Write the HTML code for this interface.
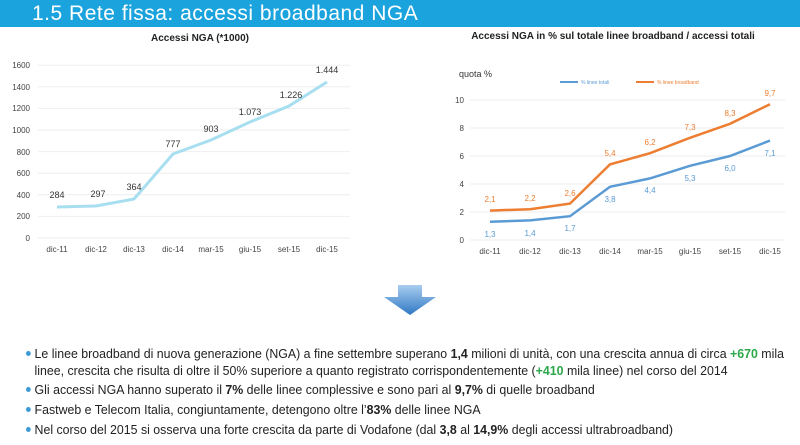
<!DOCTYPE html>
<html><head><meta charset="utf-8"><style>
body{margin:0;width:800px;height:445px;background:#fff;overflow:hidden;font-family:"Liberation Sans",sans-serif;position:relative}
.hdr{position:absolute;left:0;top:0;width:800px;height:27px;background:#1ba3dd;color:#fff;font-size:21px;line-height:27px;padding-left:32px;box-sizing:border-box;letter-spacing:0.5px}
.bul{position:absolute;left:26px;font-family:"Liberation Sans",sans-serif;font-size:13px;color:#222;white-space:nowrap;transform:scaleX(0.95);transform-origin:0 0}
.dot:before{content:"";position:absolute;left:0;top:5px;width:5px;height:5px;border-radius:50%;background:#3a9ad6}
.bul span.t{padding-left:9px}
.g{color:#2aa84a;font-weight:bold}
</style></head><body>
<div class="hdr">1.5 Rete fissa: accessi broadband NGA</div>
<svg width="800" height="445" style="position:absolute;left:0;top:0" font-family="Liberation Sans, sans-serif">
<text x="200" y="41" font-size="10" font-weight="bold" text-anchor="middle" fill="#222">Accessi NGA (*1000)</text>
<g stroke="#eee" stroke-width="1">
<line x1="38" x2="350" y1="238" y2="238"/><line x1="38" x2="350" y1="216.4" y2="216.4"/><line x1="38" x2="350" y1="194.8" y2="194.8"/><line x1="38" x2="350" y1="173.2" y2="173.2"/><line x1="38" x2="350" y1="151.6" y2="151.6"/><line x1="38" x2="350" y1="130" y2="130"/><line x1="38" x2="350" y1="108.4" y2="108.4"/><line x1="38" x2="350" y1="86.8" y2="86.8"/><line x1="38" x2="350" y1="65.2" y2="65.2"/>
</g>
<g font-size="8" fill="#444" text-anchor="end">
<text x="30" y="241">0</text><text x="30" y="219">200</text><text x="30" y="198">400</text><text x="30" y="176">600</text><text x="30" y="155">800</text><text x="30" y="133">1000</text><text x="30" y="111">1200</text><text x="30" y="90">1400</text><text x="30" y="68">1600</text>
</g>
<g font-size="8" fill="#444" text-anchor="middle">
<text x="57" y="252">dic-11</text><text x="96" y="252">dic-12</text><text x="134" y="252">dic-13</text><text x="173" y="252">dic-14</text><text x="211" y="252">mar-15</text><text x="250" y="252">giu-15</text><text x="289" y="252">set-15</text><text x="327" y="252">dic-15</text>
</g>
<polyline fill="none" stroke="#a8dff0" stroke-width="3" points="57,207 96,206 134,199 173,154 211,140 250,122 289,106 327,82"/>
<g font-size="9" fill="#333" text-anchor="middle">
<text x="57" y="198">284</text><text x="98" y="197">297</text><text x="134" y="190">364</text><text x="173" y="147">777</text><text x="211" y="132">903</text><text x="250" y="115">1.073</text><text x="291" y="98">1.226</text><text x="327" y="73">1.444</text>
</g>
<text x="613" y="39" font-size="10" font-weight="bold" text-anchor="middle" fill="#222">Accessi NGA in % sul totale linee broadband / accessi totali</text>
<text x="459" y="77" font-size="9" fill="#333">quota %</text>
<line x1="560" x2="578" y1="82" y2="82" stroke="#5b9bd5" stroke-width="2"/><text x="581" y="84" font-size="5" fill="#5b9bd5">% linee totali</text>
<line x1="636" x2="654" y1="82" y2="82" stroke="#ed7d31" stroke-width="2"/><text x="657" y="84" font-size="5" fill="#ed7d31">% linee broadband</text>
<g stroke="#eee"><line x1="470" x2="785" y1="240" y2="240"/><line x1="470" x2="785" y1="212" y2="212"/><line x1="470" x2="785" y1="184" y2="184"/><line x1="470" x2="785" y1="156" y2="156"/><line x1="470" x2="785" y1="128" y2="128"/><line x1="470" x2="785" y1="100" y2="100"/></g>
<g font-size="8" fill="#444" text-anchor="end">
<text x="464" y="243">0</text><text x="464" y="215">2</text><text x="464" y="187">4</text><text x="464" y="159">6</text><text x="464" y="131">8</text><text x="464" y="103">10</text>
</g>
<g font-size="8" fill="#444" text-anchor="middle">
<text x="490" y="254">dic-11</text><text x="530" y="254">dic-12</text><text x="570" y="254">dic-13</text><text x="610" y="254">dic-14</text><text x="650" y="254">mar-15</text><text x="690" y="254">giu-15</text><text x="730" y="254">set-15</text><text x="770" y="254">dic-15</text>
</g>
<polyline fill="none" stroke="#5b9bd5" stroke-width="2.5" points="490,221.8 530,220.4 570,216.2 610,186.8 650,178.4 690,165.8 730,156 770,140.6"/>
<polyline fill="none" stroke="#ed7d31" stroke-width="2.5" points="490,210.6 530,209.2 570,203.6 610,164.4 650,153.2 690,137.8 730,123.8 770,104.2"/>
<g font-size="8" fill="#ed7d31" text-anchor="middle">
<text x="490" y="202">2,1</text><text x="530" y="201">2,2</text><text x="570" y="196">2,6</text><text x="610" y="156">5,4</text><text x="650" y="145">6,2</text><text x="690" y="130">7,3</text><text x="730" y="116">8,3</text><text x="770" y="96">9,7</text>
</g>
<g font-size="8" fill="#5b9bd5" text-anchor="middle">
<text x="490" y="237">1,3</text><text x="530" y="236">1,4</text><text x="570" y="231">1,7</text><text x="610" y="202">3,8</text><text x="650" y="193">4,4</text><text x="690" y="181">5,3</text><text x="730" y="171">6,0</text><text x="770" y="156">7,1</text>
</g>
<defs><linearGradient id="ag" x1="0" y1="0" x2="0" y2="1"><stop offset="0" stop-color="#a9cdef"/><stop offset="1" stop-color="#2f78c4"/></linearGradient></defs>
<polygon points="398,285 422,285 422,297 436,297 410,315 384,297 398,297" fill="url(#ag)"/>
</svg>
<div class="bul dot" style="top:346px"><span class="t">Le linee broadband di nuova generazione (NGA) a fine settembre superano <b>1,4</b> milioni di unità, con una crescita annua di circa <span class="g">+670</span> mila</span></div>
<div class="bul" style="top:363px;padding-left:9px">linee, crescita che risulta di oltre il 50% superiore a quanto registrato corrispondentemente (<span class="g">+410</span> mila linee) nel corso del 2014</div>
<div class="bul dot" style="top:382px"><span class="t">Gli accessi NGA hanno superato il <b>7%</b> delle linee complessive e sono pari al <b>9,7%</b> di quelle broadband</span></div>
<div class="bul dot" style="top:402px"><span class="t">Fastweb e Telecom Italia, congiuntamente, detengono oltre l’<b>83%</b> delle linee NGA</span></div>
<div class="bul dot" style="top:422px"><span class="t">Nel corso del 2015 si osserva una forte crescita da parte di Vodafone (dal <b>3,8</b> al <b>14,9%</b> degli accessi ultrabroadband)</span></div>
</body></html>
